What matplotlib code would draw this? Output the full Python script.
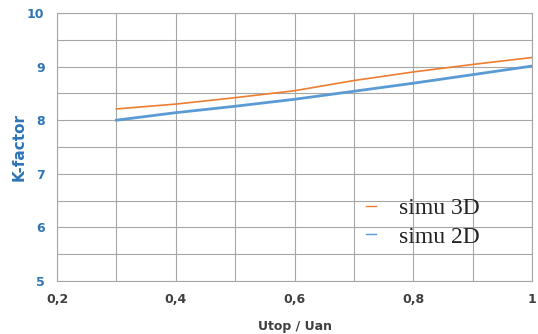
import matplotlib
matplotlib.use("Agg")
import matplotlib.pyplot as plt
from matplotlib.ticker import MultipleLocator, FuncFormatter

x = [0.3, 0.4, 0.5, 0.6, 0.7, 0.8, 0.9, 1.0]
simu_3d = [8.21, 8.30, 8.42, 8.55, 8.74, 8.90, 9.04, 9.17]
simu_2d = [8.00, 8.14, 8.26, 8.39, 8.54, 8.69, 8.85, 9.01]

fig = plt.figure(figsize=(5.38, 3.34), dpi=100)
ax = fig.add_axes([0.106, 0.159, 0.883, 0.802])

ax.plot(x, simu_3d, color="#ED7D31", lw=1.2, label="simu 3D")
ax.plot(x, simu_2d, color="#5B9BD5", lw=2.0, label="simu 2D")

ax.set_xlim(0.2, 1.0)
ax.set_ylim(5, 10)
ax.xaxis.set_major_locator(MultipleLocator(0.2))
ax.xaxis.set_minor_locator(MultipleLocator(0.1))
ax.yaxis.set_major_locator(MultipleLocator(1))
ax.yaxis.set_minor_locator(MultipleLocator(0.5))
ax.grid(True, which="both", color="#a6a6a6", lw=0.8)
ax.set_axisbelow(True)
ax.tick_params(which="both", length=0)
ax.tick_params(axis="x", pad=9)
ax.tick_params(axis="y", pad=9)

def fmt(v, pos):
    s = ("%.1f" % v).replace(".", ",")
    if s.endswith(",0"):
        s = s[:-2]
    return s
ax.xaxis.set_major_formatter(FuncFormatter(fmt))
for lab in ax.get_xticklabels():
    lab.set_fontweight("bold")
    lab.set_color("#404040")
    lab.set_fontsize(9)
for lab in ax.get_yticklabels():
    lab.set_fontweight("bold")
    lab.set_color("#2E75B6")
    lab.set_fontsize(9)

for s in ax.spines.values():
    s.set_color("#a6a6a6")
    s.set_linewidth(0.8)

ax.set_xlabel("Utop / Uan", fontsize=9, fontweight="bold", color="#404040", labelpad=10)
ax.set_ylabel("K-factor", fontsize=11, fontweight="bold", color="#2E75B6", labelpad=0)

leg = ax.legend(loc="lower right", bbox_to_anchor=(0.935, 0.045), frameon=False,
                prop={"family": "Liberation Serif", "size": 17},
                handlelength=0.4, handletextpad=1.0, labelspacing=0.3)
for t in leg.get_texts():
    t.set_color("#222222")
for h in leg.get_lines():
    h.set_linewidth(1.0)

fig.savefig("out.png", dpi=100)
